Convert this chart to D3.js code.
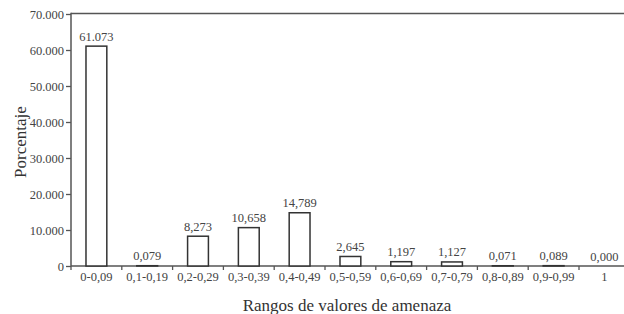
<!DOCTYPE html>
<html>
<head>
<meta charset="utf-8">
<script src="https://cdn.jsdelivr.net/npm/d3@7"></script>
<style>
  body { margin: 0; background: #fff; }
  svg { display: block; }
</style>
</head>
<body>
<svg id="chart" width="624" height="314"></svg>
<script>
// categories (threat value ranges)
var categories = ["0-0,09", "0,1-0,19", "0,2-0,29", "0,3-0,39", "0,4-0,49", "0,5-0,59",
                  "0,6-0,69", "0,7-0,79", "0,8-0,89", "0,9-0,99", "1"];
// percentages
var values = [61.073, 0.079, 8.273, 10.658, 14.789, 2.645, 1.197, 1.127, 0.071, 0.089, 0.000];
// labels as printed above the bars
var valueLabels = ["61.073", "0,079", "8,273", "10,658", "14,789", "2,645", "1,197", "1,127", "0,071", "0,089", "0,000"];
// y axis ticks
var yTicks = [0, 10, 20, 30, 40, 50, 60, 70];
var yTickLabels = ["0", "10.000", "20.000", "30.000", "40.000", "50.000", "60.000", "70.000"];

function drawChart() {

	var svg = d3.select("#chart");

	var serif = "'Liberation Serif', 'DejaVu Serif', serif",
		textColor = "#444",
		axisColor = "#555";

	var marginLeft = 71, marginTop = 14, plotBottom = 266,
		step = 50.8,
		plotRight = marginLeft + step * categories.length;

	var x = d3.scaleBand()
		.domain(categories)
		.range([marginLeft, plotRight])
		.padding(0);

	var y = d3.scaleLinear()
		.domain([0, 70])
		.range([plotBottom, marginTop]);

	/////////////////////// Frame //////////////////////////

	svg.append("line")
		.attr("x1", marginLeft).attr("x2", plotRight)
		.attr("y1", marginTop - 0.5).attr("y2", marginTop - 0.5)
		.style("stroke", axisColor).style("stroke-width", 1.5);

	/////////////////////// Y axis //////////////////////////

	var yAxis = svg.append("g")
		.attr("transform", "translate(" + marginLeft + ",0)")
		.call(d3.axisLeft(y)
			.tickValues(yTicks)
			.tickSize(5)
			.tickPadding(2)
			.tickFormat(function(d, i) { return yTickLabels[i]; }));
	yAxis.select(".domain").remove();
	yAxis.selectAll(".tick line").style("stroke", axisColor).style("stroke-width", 1.3);
	yAxis.selectAll(".tick text")
		.style("font-family", serif)
		.style("font-size", "12.5px")
		.style("fill", textColor);

	svg.append("line")
		.attr("x1", marginLeft).attr("x2", marginLeft)
		.attr("y1", marginTop - 1.2).attr("y2", plotBottom)
		.style("stroke", axisColor).style("stroke-width", 1.5);

	/////////////////////// X axis //////////////////////////

	var xAxis = svg.append("g")
		.attr("transform", "translate(0," + plotBottom + ")")
		.call(d3.axisBottom(x).tickSize(0).tickPadding(6));
	xAxis.select(".domain").remove();
	xAxis.selectAll(".tick text")
		.style("font-family", serif)
		.style("font-size", "12.5px")
		.style("fill", textColor);

	//Boundary ticks between the ranges
	svg.selectAll(".x-boundary")
		.data(categories.concat(["end"]))
		.enter().append("line")
		.attr("class", "x-boundary")
		.attr("x1", function(d, i) { return marginLeft + i * x.step(); })
		.attr("x2", function(d, i) { return marginLeft + i * x.step(); })
		.attr("y1", plotBottom)
		.attr("y2", plotBottom + 4)
		.style("stroke", axisColor).style("stroke-width", 1.3);

	svg.append("line")
		.attr("x1", marginLeft).attr("x2", plotRight)
		.attr("y1", plotBottom).attr("y2", plotBottom)
		.style("stroke", axisColor).style("stroke-width", 1.5);

	/////////////////////// Bars //////////////////////////

	var barW = x.bandwidth() * 0.41;

	svg.selectAll(".bar")
		.data(values)
		.enter().append("rect")
		.attr("class", "bar")
		.attr("x", function(d, i) { return x(categories[i]) + (x.bandwidth() - barW) / 2; })
		.attr("y", function(d) { return y(d); })
		.attr("width", barW)
		.attr("height", function(d) { return plotBottom - y(d); })
		.style("fill", "#fff")
		.style("stroke", "#333")
		.style("stroke-width", 1.5);

	svg.selectAll(".value-label")
		.data(values)
		.enter().append("text")
		.attr("class", "value-label")
		.attr("x", function(d, i) { return x(categories[i]) + x.bandwidth() / 2; })
		.attr("y", function(d) { return y(d) - 5.5; })
		.style("font-family", serif)
		.style("font-size", "12.5px")
		.style("fill", textColor)
		.style("text-anchor", "middle")
		.text(function(d, i) { return valueLabels[i]; });

	/////////////////////// Titles //////////////////////////

	svg.append("text")
		.attr("transform", "translate(" + 26 + "," + 142 + ") rotate(-90)")
		.style("font-family", serif)
		.style("font-size", "17px")
		.style("fill", "#333")
		.style("text-anchor", "middle")
		.text("Porcentaje");

	svg.append("text")
		.attr("x", 347)
		.attr("y", 310.5)
		.style("font-family", serif)
		.style("font-size", "17px")
		.style("fill", "#333")
		.style("text-anchor", "middle")
		.text("Rangos de valores de amenaza");

}//drawChart

drawChart();
</script>
</body>
</html>
